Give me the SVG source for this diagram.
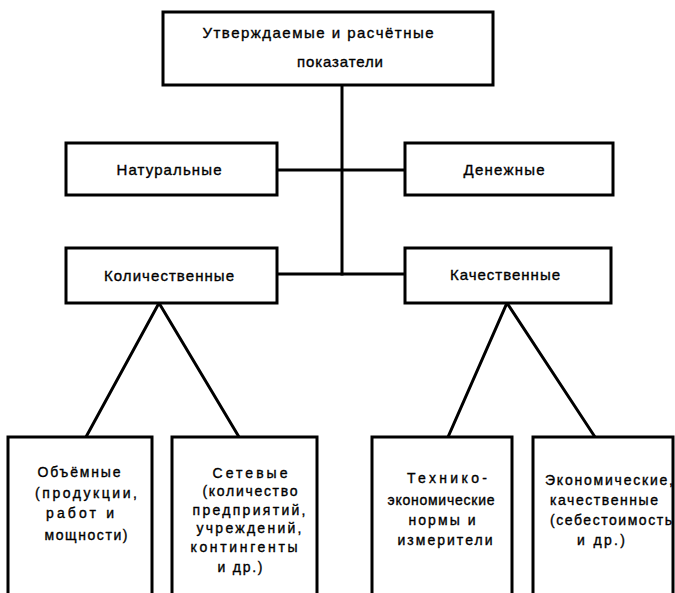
<svg xmlns="http://www.w3.org/2000/svg" width="675" height="593" viewBox="0 0 675 593">
<style>
.box{fill:#fff;stroke:#000;stroke-width:3}
.ln{stroke:#000;stroke-width:3;fill:none;stroke-linecap:square}
text{font-family:"Liberation Sans","DejaVu Sans",sans-serif;font-size:15px;fill:#000;stroke:#000;stroke-width:0.35;text-anchor:middle}
.s{font-size:14px}
</style>
<rect width="675" height="593" fill="#fff"/>
<g id="connectors">
<line class="ln" x1="342" y1="85" x2="342" y2="274"/>
<line class="ln" x1="278" y1="170" x2="405" y2="170"/>
<line class="ln" x1="277" y1="274" x2="405" y2="274"/>
<polyline class="ln" points="86,437 159,303 239,437"/>
<polyline class="ln" points="448,437 507,303 595,437"/>
</g>
<g id="n-root">
<rect class="box" x="163" y="12" width="330" height="73"/>
<text x="318" y="38" textLength="231" lengthAdjust="spacing">Утверждаемые  и  расчётные</text>
<text x="340" y="67" textLength="86" lengthAdjust="spacing">показатели</text>
</g>
<g id="n-natural">
<rect class="box" x="66" y="143" width="211" height="52"/>
<text x="169" y="175" textLength="105" lengthAdjust="spacing">Натуральные</text>
</g>
<g id="n-money">
<rect class="box" x="405" y="143" width="208" height="52"/>
<text x="504" y="175" textLength="81" lengthAdjust="spacing">Денежные</text>
</g>
<g id="n-quant">
<rect class="box" x="66" y="248" width="211" height="55"/>
<text x="169" y="281" textLength="130" lengthAdjust="spacing">Количественные</text>
</g>
<g id="n-qual">
<rect class="box" x="405" y="248" width="206" height="55"/>
<text x="505" y="280" textLength="110" lengthAdjust="spacing">Качественные</text>
</g>
<g id="n-volume">
<rect class="box" x="8" y="437" width="144" height="170"/>
<text class="s" x="79" y="477" textLength="83" lengthAdjust="spacing">Объёмные</text>
<text class="s" x="86" y="498" textLength="102" lengthAdjust="spacing">(продукции,</text>
<text class="s" x="80" y="518" textLength="68" lengthAdjust="spacing">работ и</text>
<text class="s" x="86" y="540" textLength="83" lengthAdjust="spacing">мощности)</text>
</g>
<g id="n-network">
<rect class="box" x="172" y="437" width="145" height="170"/>
<text class="s" x="250" y="478" textLength="75" lengthAdjust="spacing">Сетевые</text>
<text class="s" x="250" y="496" textLength="95" lengthAdjust="spacing">(количество</text>
<text class="s" x="249" y="515" textLength="113" lengthAdjust="spacing">предприятий,</text>
<text class="s" x="249" y="533" textLength="105" lengthAdjust="spacing">учреждений,</text>
<text class="s" x="244" y="552" textLength="107" lengthAdjust="spacing">контингенты</text>
<text class="s" x="240" y="572" textLength="45" lengthAdjust="spacing">и др.)</text>
</g>
<g id="n-tech">
<rect class="box" x="372" y="437" width="140" height="170"/>
<text class="s" x="447" y="483" textLength="80" lengthAdjust="spacing">Технико-</text>
<text class="s" x="441" y="505" textLength="107" lengthAdjust="spacing">экономические</text>
<text class="s" x="442" y="525" textLength="67" lengthAdjust="spacing">нормы и</text>
<text class="s" x="445" y="545" textLength="95" lengthAdjust="spacing">измерители</text>
</g>
<g id="n-econ">
<rect class="box" x="533" y="437" width="140" height="170"/>
<text class="s" x="609" y="485" textLength="128" lengthAdjust="spacing">Экономические,</text>
<text class="s" x="604" y="505" textLength="108" lengthAdjust="spacing">качественные</text>
<text class="s" x="611" y="525" textLength="122" lengthAdjust="spacing">(себестоимость</text>
<text class="s" x="601" y="545" textLength="48" lengthAdjust="spacing">и др.)</text>
</g>
</svg>
